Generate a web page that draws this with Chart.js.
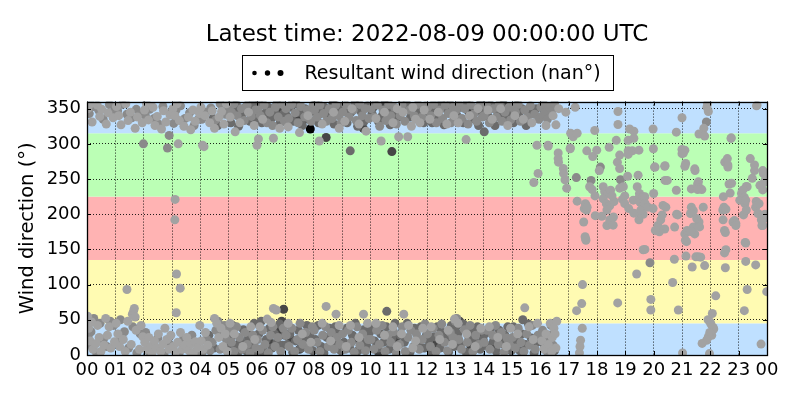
<!DOCTYPE html>
<html><head><meta charset="utf-8">
<script src="https://cdn.jsdelivr.net/npm/chart.js@4"></script>
<style>html,body{margin:0;padding:0;background:#fff}</style>
</head><body>
<canvas id="c" width="800" height="400"></canvas>
<script>
const chartTitle = 'Latest time: 2022-08-09 00:00:00 UTC';
const legendLabel = 'Resultant wind direction (nan°)';
const yAxisTitle = 'Wind direction (°)';
const hourTicks = [0,1,2,3,4,5,6,7,8,9,10,11,12,13,14,15,16,17,18,19,20,21,22,23,24];
const hourLabels = ['00','01','02','03','04','05','06','07','08','09','10','11','12','13','14','15','16','17','18','19','20','21','22','23','00'];
const dirTicks = [0,50,100,150,200,250,300,350];
const bandEdges = [0,45,135,225,315,360];

// points [hour, direction °], grouped by marker shade
const ptsLight = [
[0.03,350],[0.12,357],[0.18,331],[0.36,355],[0.45,339],[0.52,349],[0.68,328],[0.74,344],[0.92,337],
[0.02,55],[0.06,38],[0.11,20],[0.16,47],[0.21,8],[0.31,16],[0.37,42],[0.43,25],[0.49,5],[0.6,14],[0.66,52],[0.72,28],[0.78,40],[0.84,10],[0.97,19],
[1.04,353],[1.12,340],[1.2,327],[1.37,357],[1.45,333],[1.53,345],[1.7,322],[1.78,338],[1.95,330],
[1.03,45],[1.09,30],[1.15,12],[1.28,22],[1.35,5],[1.41,93],[1.44,48],[1.56,15],[1.6,58],[1.64,62],[1.67,66],[1.7,54],[1.73,35],[1.85,8],[1.91,42],[1.97,26],
[2.03,348],[2.1,357],[2.17,334],[2.33,352],[2.4,326],[2.48,339],[2.63,321],[2.7,347],[2.78,331],[2.93,341],
[2.04,18],[2.1,8],[2.18,25],[2.24,12],[2.3,3],[2.38,20],[2.45,10],[2.52,30],[2.6,5],[2.67,15],[2.75,38],[2.82,22],[2.9,8],[2.96,28],
[3.03,350],[3.1,340],[3.18,357],[3.22,300],[3.26,333],[3.42,325],[3.58,338],[3.66,320],[3.74,348],[3.82,332],[3.97,343],
[3.11,221],[3.1,192],[3.16,115],[3.29,95],[3.15,60],[3.3,32],
[3.05,12],[3.12,4],[3.2,18],[3.36,8],[3.45,14],[3.52,25],[3.6,6],[3.67,16],[3.75,3],[3.83,19],[3.9,10],[3.98,42],
[4.02,352],[4.08,298],[4.13,296],[4.16,340],[4.33,330],[4.42,347],[4.5,322],[4.66,338],[4.75,346],[4.83,328],[4.92,357],
[4.03,20],[4.1,8],[4.18,32],[4.26,14],[4.5,52],[4.58,45],[4.65,25],[4.73,38],[4.8,12],[4.88,30],[4.95,5],
[5.05,338],[5.23,317],[5.4,330],[5.7,345],[5.9,326],[5.05,45],[5.2,30],[5.5,12],[5.78,40],[5.92,22],
[6.05,307],[6.0,298],[6.58,308],[6.2,335],[6.8,322],[6.36,51],[6.58,66],[6.68,64],[6.1,40],[6.5,46],
[7.1,324],[7.5,316],[7.8,340],[7.1,45],[7.6,30],[7.9,18],
[8.2,304],[8.3,328],[8.7,345],[8.9,322],[8.44,69],[8.79,58],[8.3,45],[8.6,20],[8.9,42],
[9.1,332],[9.35,350],[9.6,328],[9.85,318],[9.76,58],[9.3,42],[9.6,25],[9.9,45],[9.15,12],
[10.38,304],[10.2,336],[10.5,345],[10.8,330],[10.95,350],[10.2,45],[10.5,28],[10.8,40],[10.95,12],
[11.0,310],[11.32,310],[11.15,345],[11.5,352],[11.6,335],[11.75,330],[11.9,348],[11.45,325],[11.18,58],[11.1,30],[11.35,42],[11.6,20],[11.85,38],[11.5,10],
[12.1,335],[12.4,345],[12.7,328],[12.95,340],[12.97,51],[12.15,40],[12.45,22],[12.75,35],[12.9,15],
[13.38,306],[13.1,330],[13.5,340],[13.8,350],[13.1,45],[13.4,30],[13.7,12],[13.9,38],
[14.3,335],[14.6,350],[14.85,326],[14.15,348],[14.2,40],[14.5,25],[14.8,12],[14.95,38],
[15.1,340],[15.4,335],[15.7,330],[15.88,298],[15.92,258],[15.77,245],[15.45,67],[15.6,40],[15.75,22],[15.9,45],[15.2,30],
[16.27,298],[16.55,327],[16.2,326],[16.45,340],[16.65,350],[16.9,345],
[16.05,20],[16.12,8],[16.2,30],[16.28,15],[16.35,45],[16.42,25],[16.48,38],[16.55,10],[16.58,48],[16.52,30],[16.4,5],
[17.07,315],[17.16,310],[17.3,315],[17.06,294],[17.23,352],[16.28,297],[17.92,319],[18.74,346],[18.74,327.5],[18.68,305],[19.15,321],[19.1,305],[19.3,318],[19.3,308],[19.98,321],[20.8,316.6],[21.0,337],[21.77,322],[21.6,314],[21.8,311],[21.9,357],[21.88,352],[21.93,346],[22.74,308.5],[23.65,355],[23.63,354],[22.73,307.7],
[17.05,293],[16.63,287],[16.63,279],[16.64,274],[16.81,265],[16.82,258],[16.87,249],[16.93,237],[17.64,290],[17.85,282],[17.99,291],[18.08,262],[17.74,239],[17.83,235],[17.93,226],[18.22,239],[18.27,232],[18.4,229.5],[18.48,234],[18.8,237],[18.72,274],[18.8,284],[18.8,265],[18.43,295],[19.1,290],[19.25,290],[19.1,285],[19.08,254],[18.93,239],[18.98,226],[19.45,255.5],[19.42,239],[19.5,229.5],[19.48,291],[19.99,293],[20.03,267],[20.05,267],[20.4,269],[20.39,268],[20.4,248],[20.48,248],[20.8,234],[21.0,292],[21.0,286],[21.1,291],[21.05,287],[21.13,272],[21.1,268],[21.45,264.5],[21.46,262],[21.33,236],[21.55,243],[21.58,246],[21.6,238],[21.55,235],[22.51,274],[22.6,279],[22.62,270],[22.66,243],[22.75,244],[22.62,267],[22.7,230],[23.27,239.5],[23.41,279],[23.56,270],[23.56,262],[23.85,262],[23.87,258],[23.85,234.5],[23.75,241],[23.48,251],[23.3,239],[23.95,250],[23.9,245],
[17.3,218.6],[17.61,213],[17.63,206],[17.55,208],[17.59,215],[17.65,210],[17.53,189],[17.6,165],[17.61,163],[17.58,168],[17.94,198],[18.17,197],[18.35,184],[18.22,222],[18.33,215],[18.45,212],[18.35,206],[18.58,196],[18.45,192],[18.57,184.5],[18.6,218],[18.53,226],[18.9,221],[18.98,215],[19.28,220],[19.5,225],[19.52,217],[19.63,225],[19.63,212],[19.63,200],[19.48,192],[19.5,202],[19.12,208],[19.3,201.5],[19.55,206],[19.69,225],[19.7,215],[19.8,210],[19.98,208],[20.0,229.5],[20.33,212.5],[20.3,199],[20.43,210],[20.1,177],[20.15,184],[20.25,192],[20.39,179],[20.2,175],[20.06,177],[20.74,181.7],[20.81,200],[20.85,199],[21.1,172],[21.18,177],[21.33,210],[21.4,205],[21.3,201],[21.6,189],[21.4,182],[21.45,172],[21.12,163],[21.3,175.5],[21.52,194],[21.62,182],[21.75,210],[21.7,235],[22.44,206],[22.5,207],[22.5,177],[22.53,174],[22.85,191],[22.9,187],[22.55,149.5],[22.46,225],[22.48,210],[22.55,207],[22.45,192],[22.8,189],[22.9,184],[23.04,220],[23.1,229.5],[23.15,234.5],[23.2,224],[23.22,215],[23.25,220],[23.17,199],[23.23,160],[23.27,206],[23.6,210],[23.62,218],[23.68,201],[23.85,184],[23.72,215],[23.8,192],[23.82,184],[23.93,200],[23.98,195],[19.69,150],[21.16,161],[21.14,140.5],[21.49,139.5],[21.58,139.5],[21.66,139],[20.73,136],[22.5,145],[23.25,159],[19.63,149.5],
[17.49,100],[17.46,73],[17.28,63],[18.73,74],[19.4,115],[19.9,79],[19.9,64],[20.67,103],[20.87,64],[21.36,125],[21.8,127],[22.53,124],[22.19,84],[22.07,59],[23.3,93],[23.2,63],[23.6,128],[23.25,133],[23.99,90],
[17.48,38],[17.42,21],[17.4,12],[17.38,3],[21.92,50],[21.99,47],[22.02,44],[22.1,39],[22.12,37],[22.05,28],[21.98,32],[21.93,26],[21.87,21],[21.71,16.5],[21.97,2],[21.02,3],[23.79,15.5]
];
const ptsMid = [
[0.08,343],[0.22,353],[0.41,348],[0.57,335],[0.79,356],[0.96,346],[0.04,26],[0.14,33],[0.24,52],[0.34,3],[0.46,45],[0.58,22],[0.7,12],[0.82,48],[0.94,42],[0.18,12],
[1.08,347],[1.25,356],[1.41,342],[1.58,337],[1.74,349],[1.9,343],[1.99,300],[1.06,18],[1.18,50],[1.32,33],[1.47,10],[1.62,40],[1.76,3],[1.88,30],
[2.06,340],[2.21,349],[2.37,336],[2.52,328],[2.68,353],[2.84,294],[2.97,345],[2.9,312],[2.07,32],[2.2,4],[2.35,14],[2.5,24],[2.72,2],[2.88,17],
[3.06,329],[3.14,348],[3.3,354],[3.46,336],[3.62,344],[3.78,326],[3.94,335],[3.25,2],[3.4,22],[3.55,12],[3.7,28],[3.86,5],
[4.05,335],[4.2,345],[4.37,351],[4.54,334],[4.7,357],[4.88,342],[4.06,3],[4.22,22],[4.34,6],[4.42,18],[4.55,35],[4.62,48],[4.7,8],[4.85,42],[4.92,22],
[5.02,353],[5.1,345],[5.18,357],[5.3,340],[5.45,350],[5.55,333],[5.65,355],[5.8,339],[5.95,348],[5.02,35],[5.1,18],[5.18,5],[5.28,40],[5.38,25],[5.47,8],[5.58,32],[5.66,15],[5.75,3],[5.85,28],[5.96,10],
[6.03,348],[6.12,340],[6.25,355],[6.35,330],[6.45,345],[6.55,326],[6.65,352],[6.75,338],[6.9,356],[6.97,332],[6.02,22],[6.1,8],[6.2,35],[6.28,15],[6.4,3],[6.48,28],[6.56,40],[6.64,12],[6.74,25],[6.84,5],[6.93,38],
[7.02,350],[7.12,336],[7.22,356],[7.35,344],[7.45,330],[7.55,353],[7.68,338],[7.78,348],[7.9,332],[7.98,355],[7.03,28],[7.13,12],[7.23,38],[7.33,5],[7.43,22],[7.52,45],[7.62,15],[7.72,32],[7.82,8],[7.95,40],
[8.03,348],[8.12,338],[8.22,355],[8.35,343],[8.45,332],[8.55,350],[8.65,336],[8.78,355],[8.88,340],[8.97,330],[8.02,35],[8.12,18],[8.22,5],[8.32,28],[8.42,40],[8.52,12],[8.62,32],[8.72,8],[8.82,25],[8.92,15],
[9.03,345],[9.14,355],[9.25,338],[9.4,348],[9.5,333],[9.62,356],[9.72,340],[9.82,350],[9.95,336],[9.02,30],[9.12,8],[9.22,35],[9.33,18],[9.43,4],[9.53,40],[9.63,14],[9.73,30],[9.83,6],[9.93,22],
[10.03,350],[10.13,338],[10.25,355],[10.33,325],[10.45,348],[10.55,333],[10.65,356],[10.72,340],[10.85,352],[10.92,328],[10.02,22],[10.12,8],[10.22,35],[10.32,15],[10.42,42],[10.52,5],[10.62,28],[10.72,18],[10.82,33],[10.92,3],
[11.05,340],[11.12,355],[11.22,332],[11.38,348],[11.55,340],[11.68,356],[11.82,338],[11.95,354],[11.03,15],[11.13,40],[11.23,5],[11.33,25],[11.43,35],[11.53,12],[11.63,30],[11.73,8],[11.83,22],[11.93,44],
[12.03,352],[12.13,340],[12.23,356],[12.33,330],[12.45,348],[12.55,336],[12.65,355],[12.75,343],[12.85,330],[12.92,352],[12.02,30],[12.12,12],[12.22,38],[12.32,5],[12.42,28],[12.52,44],[12.62,18],[12.72,6],[12.82,32],[12.92,25],
[13.03,348],[13.13,356],[13.23,336],[13.33,350],[13.45,328],[13.55,355],[13.65,342],[13.75,332],[13.85,354],[13.95,338],[13.0,48],[13.05,52],[13.12,22],[13.22,8],[13.32,36],[13.42,18],[13.52,42],[13.62,5],[13.72,28],[13.82,15],[13.92,35],
[14.02,340],[14.1,355],[14.2,330],[14.35,350],[14.45,338],[14.55,356],[14.65,332],[14.75,345],[14.9,352],[14.95,334],[14.02,18],[14.12,35],[14.22,8],[14.32,28],[14.42,42],[14.52,15],[14.62,32],[14.72,4],[14.82,24],[14.92,14],
[15.02,352],[15.12,345],[15.22,356],[15.3,332],[15.45,348],[15.55,338],[15.65,354],[15.8,342],[15.95,335],[15.02,25],[15.12,10],[15.22,38],[15.32,18],[15.42,5],[15.52,30],[15.62,14],[15.72,42],[15.82,8],[15.92,28],
[16.02,352],[16.08,340],[16.12,356],[16.18,345],[16.25,335],[16.32,352],[16.4,346],[16.5,357],[16.08,35],[16.16,22],[16.25,4],[16.32,28],[16.45,14],[16.38,42],
[21.86,331],[18.12,267],[17.79,248],[18.83,249],[17.27,252],[19.87,131]
];
const ptsDark = [
[4.45,336],[4.62,326],[4.96,350],[4.3,28],[4.48,10],[4.77,28],[4.98,15],
[5.08,330],[5.15,348],[5.27,356],[5.35,325],[5.5,343],[5.6,352],[5.75,332],[5.85,357],[5.98,337],[5.07,25],[5.14,42],[5.24,12],[5.33,4],[5.42,20],[5.52,36],[5.62,6],[5.7,24],[5.8,14],[5.9,45],[5.99,2],
[6.08,356],[6.17,330],[6.3,344],[6.4,352],[6.5,336],[6.62,345],[6.7,357],[6.82,330],[6.92,342],[6.06,30],[6.15,48],[6.24,5],[6.33,22],[6.44,38],[6.53,10],[6.62,30],[6.7,18],[6.8,44],[6.9,14],[6.98,28],
[7.05,340],[7.15,352],[7.28,332],[7.38,357],[7.48,345],[7.6,326],[7.7,350],[7.82,336],[7.93,346],[7.06,15],[7.16,30],[7.26,4],[7.36,20],[7.46,35],[7.56,10],[7.66,25],[7.76,42],[7.86,28],[7.97,6],
[8.07,357],[8.17,330],[8.28,346],[8.38,352],[8.5,338],[8.6,345],[8.72,328],[8.82,348],[8.93,353],[8.06,22],[8.16,42],[8.26,12],[8.36,3],[8.46,25],[8.56,38],[8.66,15],[8.76,40],[8.86,30],[8.96,6],
[9.06,353],[9.18,330],[9.29,290],[9.32,345],[9.45,357],[9.55,325],[9.67,346],[9.78,332],[9.9,354],[9.07,18],[9.17,38],[9.27,10],[9.37,28],[9.47,45],[9.57,6],[9.67,20],[9.77,36],[9.87,12],[9.97,32],
[10.06,343],[10.16,356],[10.28,332],[10.42,340],[10.6,350],[10.7,327],[10.82,345],[10.97,338],[10.58,62],[10.05,38],[10.15,20],[10.27,10],[10.37,30],[10.47,18],[10.57,40],[10.67,8],[10.77,24],[10.87,45],[10.97,14],
[11.08,350],[11.28,357],[11.42,338],[11.72,345],[11.88,330],[11.06,28],[11.2,18],[11.3,45],[11.4,4],[11.56,38],[11.68,16],[11.78,40],[11.9,10],[11.98,28],
[12.06,345],[12.18,330],[12.28,350],[12.38,338],[12.5,357],[12.6,327],[12.72,348],[12.82,356],[12.97,336],[12.06,20],[12.16,3],[12.26,26],[12.36,40],[12.46,10],[12.56,32],[12.66,22],[12.76,4],[12.86,42],[12.96,12],
[13.06,340],[13.18,352],[13.28,330],[13.4,357],[13.6,336],[13.7,350],[13.82,326],[13.92,346],[13.03,40],[13.08,30],[13.18,14],[13.28,44],[13.38,4],[13.48,25],[13.58,35],[13.68,20],[13.78,40],[13.88,8],[13.98,22],
[14.02,317],[14.06,348],[14.18,338],[14.25,355],[14.4,326],[14.5,344],[14.62,353],[14.72,336],[14.82,348],[14.98,340],[14.05,30],[14.15,12],[14.25,38],[14.35,20],[14.45,5],[14.55,35],[14.65,16],[14.75,28],[14.85,40],[14.97,6],
[15.05,330],[15.15,355],[15.25,340],[15.35,350],[15.5,326],[15.6,345],[15.85,350],[15.38,50],[15.05,40],[15.15,20],[15.28,6],[15.35,30],[15.48,15],[15.58,44],[15.68,24],[15.78,3],[15.88,18],
[16.15,12],[16.3,18],[16.5,6]
];
const ptsDeep = [
[5.42,346],[5.72,350],[5.35,15],[5.68,30],[5.88,8],[6.27,338],[6.6,350],[6.87,348],[6.94,65],[6.77,35],[6.87,48],[6.45,18],
[7.4,338],[7.65,334],[7.75,343],[7.2,22],[7.5,8],[7.85,15],[8.44,309],[8.15,341],[8.68,357],[9.22,348],[9.75,322],[9.4,22],[9.8,16],
[10.76,289],[10.1,352],[10.5,357],[10.3,3],[10.9,25],[12.3,15],[12.7,30],[13.48,345],[13.88,357],[13.15,48],[13.55,12],[13.85,30],
[14.12,345],[14.45,352],[14.7,356],[14.3,15],[14.6,24]
];
const ptsBlack = [[7.88,321],[8.73,24]];

const shadeColors = ['#a2a2a2','#8a8a8a','#6b6b6b','#464646','#000000'];
const bandColors = ['rgb(191,224,255)','rgb(255,251,178)','rgb(255,179,179)','rgb(187,255,181)','rgb(191,224,255)'];
const FONT = '"DejaVu Sans", sans-serif';

const bandsPlugin = {
  id: 'bands',
  beforeDraw(chart) {
    const {ctx, chartArea: ca, scales: {y}} = chart;
    ctx.save();
    for (let i = 0; i < bandEdges.length - 1; i++) {
      const y0 = y.getPixelForValue(bandEdges[i]);
      const y1 = y.getPixelForValue(bandEdges[i + 1]);
      ctx.fillStyle = bandColors[i];
      ctx.fillRect(ca.left, y1, ca.right - ca.left, y0 - y1);
    }
    ctx.restore();
  }
};

const framePlugin = {
  id: 'frame',
  afterDatasetsDraw(chart) {
    const {ctx, chartArea: ca, scales: {x, y}} = chart;
    ctx.save();
    ctx.strokeStyle = '#000';
    ctx.lineWidth = 1;
    ctx.beginPath();
    hourTicks.forEach(v => {
      const px = Math.round(x.getPixelForValue(v)) + 0.5;
      ctx.moveTo(px, ca.bottom); ctx.lineTo(px, ca.bottom - 4);
      ctx.moveTo(px, ca.top); ctx.lineTo(px, ca.top + 4);
    });
    dirTicks.forEach(v => {
      const py = Math.round(y.getPixelForValue(v)) + 0.5;
      ctx.moveTo(ca.left, py); ctx.lineTo(ca.left + 4, py);
      ctx.moveTo(ca.right, py); ctx.lineTo(ca.right - 4, py);
    });
    ctx.stroke();
    ctx.lineWidth = 1.3;
    ctx.strokeRect(Math.round(ca.left) + 0.5, Math.round(ca.top) + 0.5, Math.round(ca.right - ca.left), Math.round(ca.bottom - ca.top));
    ctx.restore();
  }
};

const legendBoxPlugin = {
  id: 'legendBox',
  afterDraw(chart) {
    const {ctx, chartArea: ca} = chart;
    ctx.save();
    ctx.font = '19px ' + FONT;
    const tw = ctx.measureText(legendLabel).width;
    const w = Math.round(62 + tw + 13);
    const cx = (ca.left + ca.right) / 2;
    const x0 = Math.round(cx - w / 2) + 0.5, y0 = 55.5, h = 35;
    ctx.fillStyle = '#fff';
    ctx.fillRect(x0, y0, w, h);
    ctx.strokeStyle = '#000';
    ctx.lineWidth = 1;
    ctx.strokeRect(x0, y0, w, h);
    ctx.fillStyle = '#000';
    [[12, 2.3], [25, 2.7], [38, 3]].forEach(([dx, r]) => {
      ctx.beginPath(); ctx.arc(x0 + dx, y0 + h / 2, r, 0, Math.PI * 2); ctx.fill();
    });
    ctx.textAlign = 'left';
    ctx.textBaseline = 'middle';
    ctx.fillText(legendLabel, x0 + 62, y0 + h / 2 + 1);
    ctx.restore();
  }
};

const groups = [ptsLight, ptsMid, ptsDark, ptsDeep, ptsBlack];

new Chart(document.getElementById('c'), {
  type: 'scatter',
  data: {
    datasets: groups.map((g, i) => ({
      label: legendLabel,
      data: g.map(([h, d]) => ({x: h, y: d})),
      pointRadius: 4.5,
      pointHoverRadius: 4.5,
      pointBackgroundColor: shadeColors[i],
      pointBorderColor: shadeColors[i],
      pointBorderWidth: 0,
      showLine: false,
      clip: 0
    }))
  },
  options: {
    responsive: false,
    devicePixelRatio: 1,
    animation: false,
    events: [],
    layout: {padding: {right: 33, left: 0, bottom: 0, top: 0}},
    plugins: {
      legend: {display: false},
      tooltip: {enabled: false},
      title: {
        display: true, text: chartTitle, fullSize: false, color: '#000',
        font: {family: FONT, size: 23, weight: 'normal'},
        padding: {top: 21, bottom: 53}
      }
    },
    scales: {
      x: {
        type: 'linear', min: 0, max: 24,
        afterBuildTicks: s => { s.ticks = hourTicks.map(v => ({value: v})); },
        afterFit: s => { s.height = 45; },
        ticks: {
          callback: (v, i) => hourLabels[i],
          color: '#000', font: {family: FONT, size: 18}, padding: 5,
          maxRotation: 0, autoSkip: false
        },
        grid: {color: 'rgba(0,0,0,0.85)', lineWidth: 1, drawTicks: false},
        border: {display: false, dash: [1, 2]}
      },
      y: {
        type: 'linear', min: 0, max: 360,
        afterBuildTicks: s => { s.ticks = dirTicks.map(v => ({value: v})); },
        afterFit: s => { s.width = 87; },
        ticks: {
          callback: v => String(v),
          color: '#000', font: {family: FONT, size: 18}, padding: 6
        },
        title: {
          display: true, text: yAxisTitle, color: '#000',
          font: {family: FONT, size: 19.5}, padding: {top: 16, bottom: 0}
        },
        grid: {color: 'rgba(0,0,0,0.85)', lineWidth: 1, drawTicks: false},
        border: {display: false, dash: [1, 2]}
      }
    }
  },
  plugins: [bandsPlugin, framePlugin, legendBoxPlugin]
});
</script>
</body></html>
